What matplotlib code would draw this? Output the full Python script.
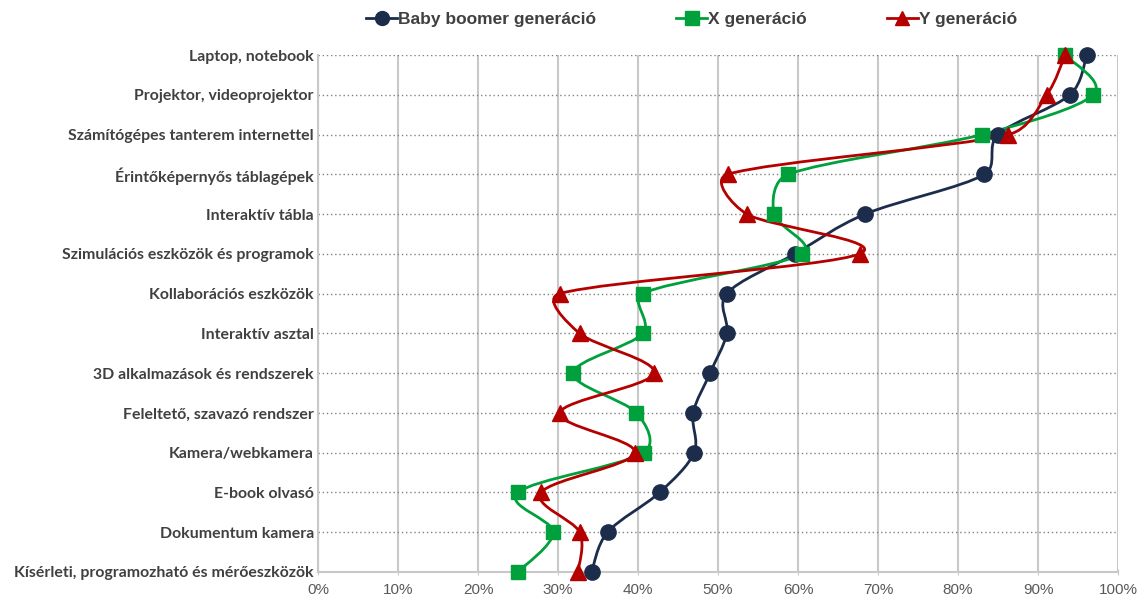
import numpy as np
import matplotlib.pyplot as plt
from matplotlib.path import Path
from matplotlib.patches import PathPatch
from matplotlib.lines import Line2D
from matplotlib.ticker import PercentFormatter

# Categories, listed top to bottom as they appear on the chart
categories = [
    "Laptop, notebook",
    "Projektor, videoprojektor",
    "Számítógépes tanterem internettel",
    "Érintőképernyős táblagépek",
    "Interaktív tábla",
    "Szimulációs eszközök és programok",
    "Kollaborációs eszközök",
    "Interaktív asztal",
    "3D alkalmazások és rendszerek",
    "Feleltető, szavazó rendszer",
    "Kamera/webkamera",
    "E-book olvasó",
    "Dokumentum kamera",
    "Kísérleti, programozható és mérőeszközök",
]

baby_boomer = [96.1, 94.0, 85.0, 83.3, 68.4, 59.6, 51.1, 51.1, 49.0, 46.9, 47.0, 42.7, 36.2, 34.2]
gen_x = [93.4, 96.9, 83.0, 58.8, 57.0, 60.5, 40.6, 40.6, 31.9, 39.8, 40.7, 25.0, 29.4, 25.0]
gen_y = [93.4, 91.1, 86.3, 51.2, 53.6, 67.7, 30.2, 32.7, 42.0, 30.2, 39.6, 27.9, 32.7, 32.5]

series = [
    ("Baby boomer generáció", baby_boomer, "#1b2d4b", "o", 11),
    ("X generáció", gen_x, "#00a03c", "s", 10.5),
    ("Y generáció", gen_y, "#b50000", "^", 11),
]

text_color = "#404040"
grid_color = "#c8c8c8"

FIG_W, FIG_H = 1147, 603
AX_BOX = [318, 31, 800, 517]  # left, bottom, width, height in pixels


def smooth_path(xs, ys, sx, sy, k=0.4):
    """Cubic Bezier through the points. Handles point along the neighbour
    direction; their length is the Catmull-Rom one, capped by a share of
    the segment so short hops next to long ones don't overshoot."""
    p = np.column_stack([np.asarray(xs) * sx, np.asarray(ys) * sy])
    n = len(p)
    verts = [p[0]]
    codes = [Path.MOVETO]
    for i in range(n - 1):
        p0, p1 = p[max(i - 1, 0)], p[i]
        p2, p3 = p[i + 1], p[min(i + 2, n - 1)]
        seg = np.hypot(*(p2 - p1))
        t1 = p2 - p0
        t2 = p3 - p1
        l1 = min(np.hypot(*t1) / 6, seg * k)
        l2 = min(np.hypot(*t2) / 6, seg * k)
        t1 = t1 / (np.hypot(*t1) or 1)
        t2 = t2 / (np.hypot(*t2) or 1)
        verts += [p1 + t1 * l1, p2 - t2 * l2, p2]
        codes += [Path.CURVE4] * 3
    verts = np.array(verts) / [sx, sy]
    return Path(verts, codes)


fig = plt.figure(figsize=(FIG_W / 100, FIG_H / 100), dpi=100)
ax = fig.add_axes([AX_BOX[0] / FIG_W, AX_BOX[1] / FIG_H,
                   AX_BOX[2] / FIG_W, AX_BOX[3] / FIG_H])

n = len(categories)
ypos = [n - 1 - i for i in range(n)]
px_per_x = AX_BOX[2] / 100
px_per_y = AX_BOX[3] / (n - 1)

handles = []
for label, values, color, marker, ms in series:
    path = smooth_path(values, ypos, px_per_x, px_per_y)
    ax.add_patch(PathPatch(path, fill=False, edgecolor=color, lw=2.0, zorder=3,
                           capstyle="round", joinstyle="round"))
    ax.plot(values, ypos, ls="none", marker=marker, ms=ms, color=color,
            markeredgecolor=color, zorder=4, clip_on=False)
    handles.append(Line2D([0], [0], color=color, lw=2.0, marker=marker, ms=ms - 1))

ax.set_xlim(0, 100)
ax.set_ylim(0, n - 1)
ax.set_xticks(range(0, 101, 10))
ax.xaxis.set_major_formatter(PercentFormatter(decimals=0))
ax.set_yticks(ypos)
ax.set_yticklabels(categories, fontfamily="Lato", fontweight="bold",
                   fontsize=11.4, color=text_color)

# Dotted rows for categories, solid columns for percentages
ax.grid(axis="y", ls=(0, (1, 2)), color="#808080", lw=1.0)
ax.grid(axis="x", ls="-", color=grid_color, lw=1.5)
ax.set_axisbelow(True)

for side in ["top", "right"]:
    ax.spines[side].set_visible(False)
for side in ["left", "bottom"]:
    ax.spines[side].set_color(grid_color)
    ax.spines[side].set_linewidth(1.5)

ax.tick_params(axis="y", length=0, pad=3)
ax.tick_params(axis="x", length=4, direction="inout", color=grid_color,
               labelsize=11, labelcolor="#595959", pad=6)
for t in ax.get_xticklabels():
    t.set_fontfamily("Liberation Sans")

fig.legend(handles, [s[0] for s in series], loc="center",
           bbox_to_anchor=(0.603, 0.968), ncol=3, frameon=False,
           handlelength=1.8, handletextpad=0.05, columnspacing=4.6,
           prop={"family": "Liberation Sans", "weight": "bold", "size": 12.5},
           labelcolor=text_color)

fig.savefig("out.png", dpi=100)
